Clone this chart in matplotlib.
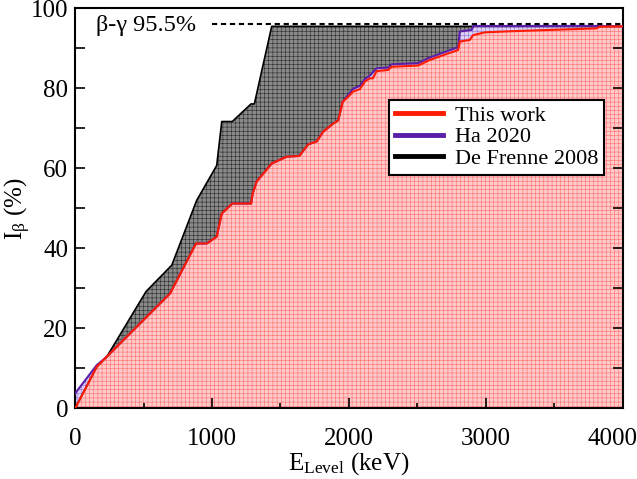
import numpy as np
import matplotlib
matplotlib.use("Agg")
import matplotlib.pyplot as plt
import matplotlib.transforms as mtransforms

plt.rcParams['font.family'] = ['Liberation Serif', 'DejaVu Serif']
plt.rcParams['mathtext.fontset'] = 'custom'
plt.rcParams['mathtext.rm'] = 'Liberation Serif'
plt.rcParams['mathtext.it'] = 'Liberation Serif:italic'
plt.rcParams['hatch.linewidth'] = 0.4

# --- data (keV, %) ---
red_E = [0, 158, 231, 693, 883, 961, 1034, 1071, 1148, 1285, 1297, 1326, 1436, 1545,
         1637, 1703, 1764, 1813, 1886, 1922, 1954, 1995, 2031, 2080, 2117, 2153, 2175,
         2202, 2287, 2312, 2506, 2591, 2798, 2810, 2883, 2907, 2993, 3126, 3808, 3832, 4000]
red_I = [0, 10.4, 12.9, 28.7, 41.2, 41.2, 42.9, 48.7, 51.2, 51.2, 53.7, 56.7, 61.2, 62.9,
         63.1, 66.0, 66.7, 69.2, 71.2, 72.0, 76.6, 77.9, 79.2, 79.8, 81.7, 82.5, 82.5,
         84.3, 84.6, 85.4, 85.7, 87.1, 89.6, 91.7, 92.1, 93.3, 94.0, 94.2, 95.0, 95.4, 95.5]

ha_E = [0, 158, 231, 693, 883, 961, 1034, 1071, 1148, 1285, 1297, 1326, 1436, 1545,
        1637, 1703, 1764, 1813, 1886, 1922, 1954, 1995, 2031, 2080, 2117, 2153, 2175,
        2202, 2287, 2312, 2506, 2591, 2798, 2810, 2896, 2910, 3832, 4000]
ha_I = [3.75, 10.8, 12.9, 28.7, 41.2, 41.2, 42.9, 48.7, 51.2, 51.2, 53.7, 56.7, 61.2, 62.9,
        63.1, 66.0, 66.7, 69.2, 71.2, 72.0, 76.6, 78.4, 79.9, 80.6, 82.3, 83.2, 84.0,
        85.0, 85.2, 86.0, 86.3, 87.7, 90.3, 94.2, 94.6, 95.6, 95.6, 95.5]

df_E = [0, 158, 231, 518, 706, 888, 1034, 1071, 1148, 1285, 1309, 1436, 4000]
df_I = [0, 10.4, 12.9, 29.2, 35.8, 52.0, 60.7, 71.7, 71.7, 76.1, 76.1, 95.5, 95.5]

bg_level = 96.0
bg_label = "β-γ 95.5%"

fig = plt.figure(figsize=(6.37, 4.79), dpi=100)
ax = fig.add_axes([0.118, 0.1476, 0.8595, 0.835])

# fills: gray under De Frenne, lavender under Ha, pink under this work
ax.fill_between(df_E, df_I, 0, facecolor='#8a8a8a', edgecolor='#2a2a2a',
                hatch='++++', linewidth=0)
ax.fill_between(ha_E, ha_I, 0, facecolor='#ddd0f5', edgecolor='#9070d0',
                hatch='++++', linewidth=0)
ax.fill_between(red_E, red_I, 0, facecolor='#ffcaca', edgecolor='#ff7070',
                hatch='++++', linewidth=0)

ax.plot(df_E, df_I, color='black', lw=1.2, label='De Frenne 2008', zorder=3)
ax.plot(ha_E, ha_I, color='#5a1fa8', lw=1.5, label='Ha 2020', zorder=4)
ax.plot(red_E, red_I, color='#ff1a00', lw=1.5, label='This work', zorder=5)

ax.plot([1000, 4000], [bg_level, bg_level], 'k--', lw=1.5, dashes=(2.5, 1.8), zorder=6)
ax.text(155, 95.6, bg_label, fontsize=17.5, va='center', ha='left')

ax.set_xlim(0, 4000)
ax.set_ylim(0, 100)
ax.set_xticks([0, 1000, 2000, 3000, 4000])
ax.set_xticks(np.arange(500, 4000, 1000), minor=True)
ax.set_yticks(np.arange(0, 101, 20))
ax.set_yticks(np.arange(10, 100, 20), minor=True)
ax.tick_params(which='both', direction='in', right=True, labelsize=18, width=1.2)
ax.tick_params(axis='x', which='major', length=7, pad=14)
ax.tick_params(axis='x', which='minor', length=3.5)
ax.tick_params(axis='y', which='both', length=7, pad=5)
for s in ax.spines.values():
    s.set_linewidth(1.5)

# last x label sits shifted left, inside the figure
lab = ax.get_xticklabels()[-1]
lab.set_transform(lab.get_transform() +
                  mtransforms.ScaledTranslation(-10 / 100, 0, fig.dpi_scale_trans))

ax.set_xlabel(r"E$_{\rm Level}$ (keV)", fontsize=18, labelpad=0)
ax.set_ylabel(r"I$_{\rm β}$ (%)", fontsize=18)
ax.yaxis.set_label_coords(-0.077, 0.5)

h, l = ax.get_legend_handles_labels()
order = [2, 1, 0]
leg = ax.legend([h[i] for i in order], [l[i] for i in order], loc='upper right',
                bbox_to_anchor=(0.965, 0.772), fontsize=16, fancybox=False,
                framealpha=1, edgecolor='black', borderpad=0.25, labelspacing=0.05,
                handlelength=2.2, handletextpad=0.5, borderaxespad=0)
leg.get_frame().set_linewidth(1.5)
for line in leg.get_lines():
    line.set_linewidth(3.5)

fig.savefig("out.png", dpi=100)
